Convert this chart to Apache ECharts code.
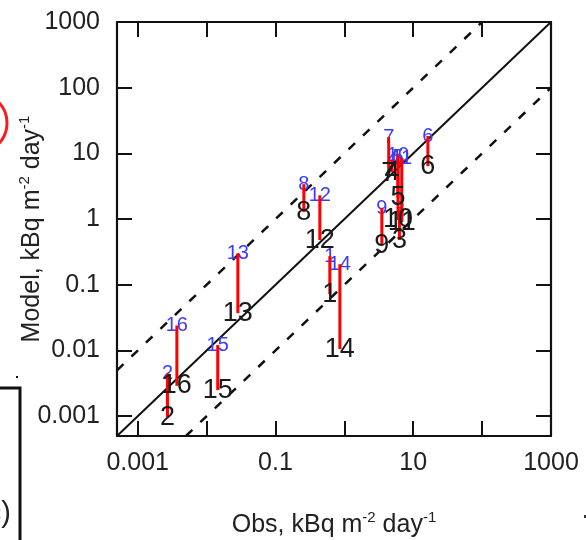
<!DOCTYPE html>
<html>
<head>
<meta charset="utf-8">
<script src="https://cdn.jsdelivr.net/npm/echarts@6/dist/echarts.min.js"></script>
<style>html,body{margin:0;padding:0;background:#fff;}#main{width:586px;height:540px;}</style>
</head>
<body>
<div id="main"></div>
<script>
// ---- data ----
var stations = ['1','2','3','4','5','6','7','8','9','10','11','12','13','14','15','16'];
var obs      = [0.615, 0.0027, 6.3, 4.9, 6.0, 16.3, 4.4, 0.258, 3.5, 6.0, 6.8, 0.44, 0.0284, 0.86, 0.0145, 0.0037];
var modelBlack = [0.072, 0.00097, 0.48, 5.2, 2.1, 6.4, 5.0, 1.28, 0.40, 0.97, 0.90, 0.48, 0.037, 0.0105, 0.0025, 0.0029];
var modelBlue  = [0.273, 0.0045, 1.4, 7.9, 8.8, 18.4, 17.7, 3.4, 1.47, 9.4, 8.5, 2.3, 0.30, 0.206, 0.0121, 0.024];
var axisMin = 0.0005, axisMax = 1000;
var oneToOne  = [[0.0005, 0.0005], [1000, 1000]];
var upperX10  = [[0.0005, 0.005], [100, 1000]];
var lowerX10  = [[0.005, 0.0005], [1000, 100]];
var xTickLabels = ['0.001', '', '0.1', '', '10', '', '1000'];
var yTickLabels = ['0.001', '0.01', '0.1', '1', '10', '100', '1000'];

var FONT = '"Liberation Sans", Arial, sans-serif';
function labelFrom(arr) {
  return function (v) {
    var l = Math.log10(v), r = Math.round(l);
    if (Math.abs(l - r) > 0.01) return '';
    var s = arr[r + 3];
    return s === undefined ? '' : s;
  };
}
var frameLine = { show: true, lineStyle: { color: '#111', width: 2.2 } };
var tick = { show: true, inside: true, length: 15, lineStyle: { color: '#111', width: 2 } };
var titleStyle = { color: '#222', fontFamily: FONT, fontSize: 25, lineHeight: 30,
  rich: { sup: { fontSize: 15, verticalAlign: 'top', lineHeight: 30, color: '#222', fontFamily: FONT } } };

var segData = stations.map(function (s, i) { return [obs[i], modelBlack[i], modelBlue[i], s]; });

var chart = echarts.init(document.getElementById('main'), null, { renderer: 'canvas' });
chart.setOption({
  animation: false,
  backgroundColor: '#fff',
  grid: { left: 117, top: 22, right: 35, bottom: 104, containLabel: false, outerBoundsMode: 'none' },
  xAxis: [{
    type: 'log', logBase: 10, min: axisMin, max: axisMax, position: 'bottom',
    axisLine: frameLine, axisTick: tick, splitLine: { show: false }, minorTick: { show: false },
    axisLabel: { formatter: labelFrom(xTickLabels), color: '#222', fontFamily: FONT, fontSize: 25, margin: 15, showMinLabel: false },
    name: 'Obs, kBq m{sup|-2} day{sup|-1}', nameLocation: 'middle', nameGap: 74, nameMoveOverlap: false,
    nameTextStyle: titleStyle
  }, {
    type: 'log', logBase: 10, min: axisMin, max: axisMax, position: 'top',
    axisLine: frameLine, axisTick: tick, splitLine: { show: false }, axisLabel: { show: false }
  }],
  yAxis: [{
    type: 'log', logBase: 10, min: axisMin, max: axisMax, position: 'left',
    axisLine: frameLine, axisTick: tick, splitLine: { show: false }, minorTick: { show: false },
    axisLabel: { formatter: labelFrom(yTickLabels), color: '#222', fontFamily: FONT, fontSize: 25, margin: 17, showMinLabel: false },
    name: 'Model, kBq m{sup|-2} day{sup|-1}', nameLocation: 'middle', nameGap: 70, nameRotate: 90, nameMoveOverlap: false,
    nameTextStyle: titleStyle
  }, {
    type: 'log', logBase: 10, min: axisMin, max: axisMax, position: 'right',
    axisLine: frameLine, axisTick: tick, splitLine: { show: false }, axisLabel: { show: false }
  }],
  series: [
    { type: 'line', data: oneToOne, symbol: 'none', silent: true, lineStyle: { color: '#111', width: 2 }, z: 3 },
    { type: 'line', data: upperX10, symbol: 'none', silent: true, lineStyle: { color: '#111', width: 2.5, type: [9, 11] }, z: 3 },
    { type: 'line', data: lowerX10, symbol: 'none', silent: true, lineStyle: { color: '#111', width: 2.5, type: [9, 11] }, z: 3 },
    {
      type: 'custom', data: segData, z: 5, clip: false,
      renderItem: function (params, api) {
        var x = api.value(0), lo = api.value(1), hi = api.value(2);
        var name = stations[params.dataIndex];
        var p1 = api.coord([x, lo]), p2 = api.coord([x, hi]);
        return {
          type: 'group',
          children: [
            { type: 'text', z2: 1, style: { text: name, x: p2[0], y: p2[1], fill: '#3b3bff', font: '20px ' + FONT, align: 'center', verticalAlign: 'middle' } },
            { type: 'line', z2: 2, shape: { x1: p1[0], y1: p1[1], x2: p2[0], y2: p2[1] }, style: { stroke: '#ff0000', lineWidth: 3 } },
            { type: 'text', z2: 3, style: { text: name, x: p1[0], y: p1[1], fill: '#1a1a1a', font: '27px ' + FONT, align: 'center', verticalAlign: 'middle' } }
          ]
        };
      }
    }
  ],
  graphic: [
    { type: 'circle', shape: { cx: -23, cy: 123, r: 30 }, style: { fill: 'none', stroke: '#ff1a1a', lineWidth: 3 }, silent: true },
    { type: 'polyline', shape: { points: [[0, 388], [20, 388], [20, 541]] }, style: { fill: 'none', stroke: '#111', lineWidth: 3 }, silent: true },
    { type: 'rect', shape: { x: 16, y: 376, width: 2, height: 2 }, style: { fill: '#111' }, silent: true },
    { type: 'text', style: { text: 'c)', x: 11, y: 514, align: 'right', verticalAlign: 'middle', fill: '#222', font: '29px ' + FONT }, silent: true },
    { type: 'rect', shape: { x: 584, y: 515, width: 2, height: 3 }, style: { fill: '#333' }, silent: true }
  ]
});
</script>
</body>
</html>
